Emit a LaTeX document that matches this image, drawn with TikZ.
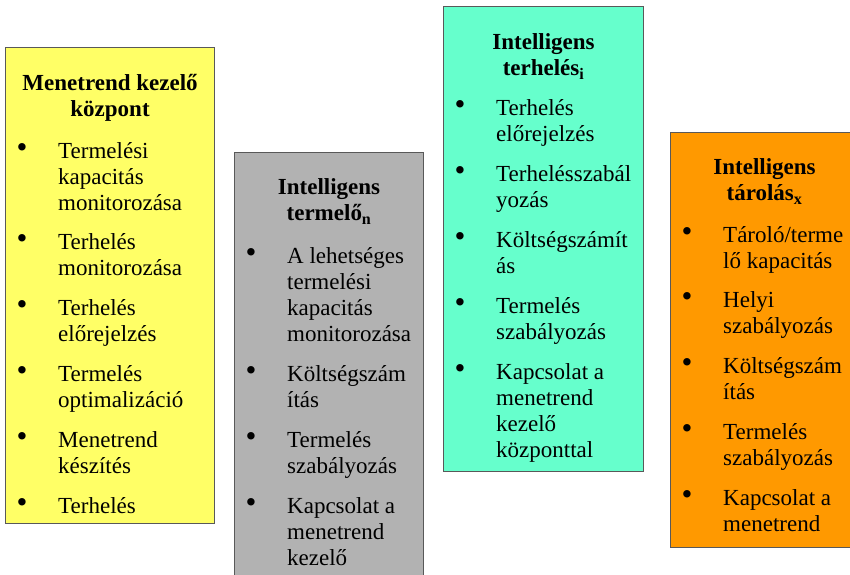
\documentclass[tikz,border=0pt]{standalone}
\usepackage{fontspec}
\setmainfont{Liberation Serif}
\usetikzlibrary{positioning,calc}

\definecolor{kozpontfill}{HTML}{FFFF66}
\definecolor{termelofill}{HTML}{B2B2B2}
\definecolor{terhelesfill}{HTML}{66FFCC}
\definecolor{tarolasfill}{HTML}{FF9900}

\newcommand{\itemlines}[1]{\parbox[t]{170pt}{#1}}
\newcommand{\titlelines}[1]{\parbox[t]{200pt}{\centering #1}}

\begin{document}
\begin{tikzpicture}[x=1pt,y=-1pt,
  every node/.append style={inner sep=0pt,font=\fontsize{23}{26.3}\selectfont},
  panel/.style={draw=black!65,line width=1.1pt,anchor=north west,rectangle},
  title/.style={anchor=base,font=\fontsize{23}{26.3}\selectfont\bfseries},
  item/.style={anchor=base west},
  dot/.style={anchor=base,font=\fontsize{31}{31}\selectfont}]
\useasboundingbox (0,0) rectangle (850,574);
\clip (0,0) rectangle (850,574);

% the four panels
\node[panel,fill=kozpontfill,minimum width=209pt,minimum height=476pt] (kozpont) at (5,47) {};
\node[panel,fill=termelofill,minimum width=189pt,minimum height=440pt] (termelo) at (234,152) {};
\node[panel,fill=terhelesfill,minimum width=200pt,minimum height=465pt] (terheles) at (443,6) {};
\node[panel,fill=tarolasfill,minimum width=188pt,minimum height=415pt] (tarolas) at (670,132) {};

% titles
\node[title] (kozpont-t) at ($(kozpont.north)+(0,43)$) {\titlelines{Menetrend kezelő\\központ}};
\node[title] (termelo-t) at ($(termelo.north)+(0,42)$) {\titlelines{Intelligens\\termelő\textsubscript{n}}};
\node[title] (terheles-t) at ($(terheles.north)+(0,43)$) {\titlelines{Intelligens\\terhelés\textsubscript{i}}};
\node[title] (tarolas-t) at ($(tarolas.north)+(0,42)$) {\titlelines{Intelligens\\tárolás\textsubscript{x}}};

% bullet lists
\foreach \y/\t [count=\i] in {111/{Termelési\\kapacitás\\monitorozása},202/{Terhelés\\monitorozása},
    268/{Terhelés\\előrejelzés},334/{Termelés\\optimalizáció},400/{Menetrend\\készítés},466/{Terhelés}}{
  \node[dot] (kozpont-b\i) at ($(kozpont.north west)+(17,\y)$) {\raisebox{0.5pt}{\textbullet}};
  \node[item] (kozpont-\i) at ($(kozpont.north west)+(53,\y)$) {\itemlines{\t}};
}
\foreach \y/\t [count=\i] in {111/{A lehetséges\\termelési\\kapacitás\\monitorozása},229/{Költségszám\\ítás},
    295/{Termelés\\szabályozás},361/{Kapcsolat a\\menetrend\\kezelő}}{
  \node[dot] (termelo-b\i) at ($(termelo.north west)+(17,\y)$) {\raisebox{0.5pt}{\textbullet}};
  \node[item] (termelo-\i) at ($(termelo.north west)+(53,\y)$) {\itemlines{\t}};
}
\foreach \y/\t [count=\i] in {109/{Terhelés\\előrejelzés},175/{Terhelésszabál\\yozás},241/{Költségszámít\\ás},
    307/{Termelés\\szabályozás},373/{Kapcsolat a\\menetrend\\kezelő\\központtal}}{
  \node[dot] (terheles-b\i) at ($(terheles.north west)+(17,\y)$) {\raisebox{0.5pt}{\textbullet}};
  \node[item] (terheles-\i) at ($(terheles.north west)+(53,\y)$) {\itemlines{\t}};
}
\foreach \y/\t [count=\i] in {110/{Tároló/terme\\lő kapacitás},175/{Helyi\\szabályozás},241/{Költségszám\\ítás},
    307/{Termelés\\szabályozás},373/{Kapcsolat a\\menetrend}}{
  \node[dot] (tarolas-b\i) at ($(tarolas.north west)+(17,\y)$) {\raisebox{0.5pt}{\textbullet}};
  \node[item] (tarolas-\i) at ($(tarolas.north west)+(53,\y)$) {\itemlines{\t}};
}
\end{tikzpicture}
\end{document}
